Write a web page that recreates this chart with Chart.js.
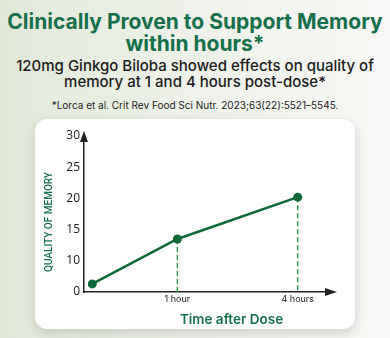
<html>
<head>
<title>Memory chart</title>
<script src="https://cdn.jsdelivr.net/npm/chart.js"></script>
<style>
  body { margin: 0; width: 390px; height: 338px; overflow: hidden; position: relative;
         background: linear-gradient(90deg, #e2e9d9 0%, #edf1e8 45%, #f7f7f5 100%);
         font-family: Inter, sans-serif; }
  .t { position: absolute; left: 0; width: 390px; text-align: center; white-space: nowrap; }
  .title { font-size: 21px; line-height: 24px; font-weight: 700; color: #14704a; }
  .sub { font-size: 15px; line-height: 17px; font-weight: 500; color: #1c1c1c; }
  .note { font-size: 10px; line-height: 12px; color: #1c1c1c; }
  #card { position: absolute; left: 35px; top: 119px; width: 320px; height: 210px; background: #fff;
          border-radius: 12px; box-shadow: 0 4px 12px rgba(0,0,0,0.15); }
  #chart { position: absolute; left: 0; top: 0; }
</style>
</head>
<body>
  <div class="t title" style="top:10px">Clinically Proven to Support Memory</div>
  <div class="t title" style="top:32px">within hours*</div>
  <div class="t sub" style="top:57px">120mg Ginkgo Biloba showed effects on quality of</div>
  <div class="t sub" style="top:73px">memory at 1 and 4 hours post-dose*</div>
  <div class="t note" style="top:99px">*Lorca et al. Crit Rev Food Sci Nutr. 2023;63(22):5521–5545.</div>
  <div id="card"></div>
  <canvas id="chart" width="390" height="338"></canvas>
</body>
<script>
  // points along the time axis (first point is the baseline)
  const xPositions = [0.2, 2.25, 5.15];
  const memory = [6.3, 13.5, 20.2];
  // y axis: bottom tick is drawn as "0" (axis break below 10)
  const yTickValues = [5, 10, 15, 20, 25, 30];
  const yTickLabels = ['0', '10', '15', '20', '25', '30'];
  const xTickValues = [2.25, 5.15];
  const xTickLabels = ['1 hour', '4 hours'];
  const yMin = 5, yMax = 30, xMin = 0, xMax = 6;

  const green = '#0d6a37';
  const dashGreen = '#1f9a45';

  function dropLine(i) {
    return {
      data: [{ x: xPositions[i], y: memory[i] }, { x: xPositions[i], y: yMin }],
      borderColor: dashGreen, borderWidth: 1.4, borderDash: [5, 3],
      pointRadius: 0, order: 2
    };
  }

  const axisExtras = {
    id: 'axisExtras',
    afterDraw(chart) {
      const { ctx, chartArea: a } = chart;
      ctx.save();
      ctx.fillStyle = '#222';
      ctx.beginPath();
      ctx.moveTo(a.left, a.top - 5);
      ctx.lineTo(a.left - 4, a.top + 6);
      ctx.lineTo(a.left + 4, a.top + 6);
      ctx.closePath();
      ctx.fill();
      ctx.beginPath();
      ctx.moveTo(a.right + 4, a.bottom);
      ctx.lineTo(a.right - 8, a.bottom - 4);
      ctx.lineTo(a.right - 8, a.bottom + 4);
      ctx.closePath();
      ctx.fill();

      ctx.fillStyle = '#14704a';
      ctx.textAlign = 'center';
      ctx.textBaseline = 'middle';
      ctx.font = '600 13.5px Inter';
      ctx.fillText('Time after Dose', (a.left + a.right) / 2 + 23, 320);
      ctx.translate(49, 222);
      ctx.rotate(-Math.PI / 2);
      ctx.font = '500 10px Roboto';
      ctx.fillText('QUALITY OF MEMORY', 0, 0);
      ctx.restore();
    }
  };

  new Chart(document.getElementById('chart'), {
    type: 'line',
    data: {
      datasets: [
        {
          data: xPositions.map((x, i) => ({ x: x, y: memory[i] })),
          borderColor: green, backgroundColor: green, borderWidth: 2.5,
          pointRadius: 4.5, pointBackgroundColor: green, pointBorderWidth: 0,
          order: 0
        },
        dropLine(1),
        dropLine(2)
      ]
    },
    options: {
      responsive: false,
      animation: false,
      clip: false,
      layout: { padding: { top: 136, right: 57, left: 0, bottom: 0 } },
      plugins: { legend: { display: false }, tooltip: { enabled: false } },
      scales: {
        x: {
          type: 'linear', min: xMin, max: xMax,
          grid: { display: false, drawTicks: false },
          border: { display: true, color: '#222', width: 1.5 },
          afterFit: s => { s.height = 46; },
          afterBuildTicks: s => { s.ticks = xTickValues.map(v => ({ value: v })); },
          ticks: {
            padding: 2, color: '#222', font: { family: 'Inter', size: 9 },
            callback: (v, i) => xTickLabels[i]
          }
        },
        y: {
          type: 'linear', min: yMin, max: yMax,
          grid: { display: false, drawTicks: false },
          border: { display: true, color: '#222', width: 1.5 },
          afterFit: s => { s.width = 84; },
          afterBuildTicks: s => { s.ticks = yTickValues.map(v => ({ value: v })); },
          ticks: {
            padding: 4, color: '#222', font: { family: 'Open Sans', size: 12 },
            callback: (v, i) => yTickLabels[i]
          }
        }
      }
    },
    plugins: [axisExtras]
  });
</script>
</html>
